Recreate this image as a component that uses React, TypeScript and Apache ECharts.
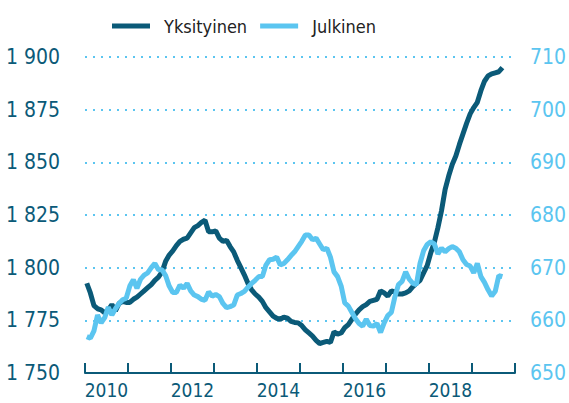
import React, { useEffect, useRef } from "react";
import * as echarts from "echarts";

const years = ["2010", "2011", "2012", "2013", "2014", "2015", "2016", "2017", "2018", "2019"];
const leftTicks = { min: 1750, max: 1900, step: 25 };
const rightTicks = { min: 650, max: 710, step: 10 };

// Monthly values, Jan 2010 .. Sep 2019
const yksityinen = [
  1792.6, 1788, 1782, 1780.5, 1780, 1778.5, 1780, 1782.5, 1779.5, 1783, 1784, 1783.5,
  1783.5, 1785, 1786, 1787.5, 1789, 1790.5, 1792, 1794, 1795.5, 1798, 1803, 1806,
  1808, 1810.5, 1812.5, 1813.5, 1814, 1816.5, 1819, 1820, 1821.5, 1822.5, 1817, 1817,
  1817.5, 1814, 1812.5, 1813, 1810, 1807.5, 1803.5, 1800, 1796.5, 1792.5, 1789.5, 1787.5,
  1786, 1784, 1781, 1779, 1777, 1776, 1775.5, 1776.5, 1776, 1774.5, 1774, 1773.8,
  1772.5, 1770.5, 1769, 1767.5, 1765.5, 1764, 1764.5, 1765, 1764.5, 1769.5, 1768.5, 1769,
  1771.5, 1773, 1775.5, 1778, 1780, 1781.5, 1782.5, 1784, 1784.5, 1785, 1789, 1788,
  1786.5, 1789, 1788.5, 1787.5, 1787.5, 1788, 1789, 1791, 1792.5, 1794, 1797.5, 1801,
  1807, 1812, 1819, 1827, 1837, 1843.5, 1849, 1853, 1858.5, 1863.5, 1868.5, 1873,
  1876, 1878.5, 1884, 1888.5, 1891, 1892, 1892.5, 1893, 1895,
];

const julkinen = [
  656.9, 656.6, 658, 661, 659.5, 660.5, 662.5, 661, 662.2, 663.2, 663.9, 664.2,
  666.5, 667.7, 666.1, 667.8, 668.6, 669, 670, 670.8, 669.6, 669.6, 668.5, 666.5,
  665.3, 665.3, 666.7, 666.1, 667, 665.6, 664.8, 664.5, 664, 663.8, 665.4, 664.6,
  664.9, 664.5, 663.2, 662.4, 662.6, 662.9, 664.8, 665.1, 665.5, 666.3, 667, 667.6,
  668.3, 668.3, 670.5, 671.5, 671.6, 672, 670.5, 670.8, 671.5, 672.3, 673, 674,
  675, 676.2, 676.2, 675.3, 675.6, 674.5, 673.4, 673.7, 672, 669.2, 668.3, 666.5,
  663.3, 662.7, 661.5, 660.3, 659.4, 658.9, 660.2, 659, 658.9, 659.4, 657.7, 659.5,
  660.9, 661.5, 664.5, 666.8, 667.4, 669.2, 667.8, 667, 666.8, 670.8, 673.2, 674.4,
  674.9, 674.5, 672.6, 673.7, 673, 673.6, 674, 673.7, 673, 671.5, 670.6, 670.3,
  669, 670.8, 668.3, 667.2, 665.8, 664.6, 665.5, 668.5, 668.3,
];

const DARK = "#0b5a78";
const LIGHT = "#5bc5f0";
const FONT = "'Liberation Sans Narrow', 'DejaVu Sans Condensed', 'Roboto', sans-serif";

const fmtThousands = (v: number) => {
  const s = String(Math.round(v));
  return s.length > 3 ? s.slice(0, s.length - 3) + " " + s.slice(-3) : s;
};

export default function App() {
  const ref = useRef<HTMLDivElement>(null);
  useEffect(() => {
    if (!ref.current) return;
    const chart = echarts.init(ref.current, undefined, { renderer: "svg" });
    const months = years.length * 12;
    chart.setOption({
      animation: false,
      backgroundColor: "#ffffff",
      legend: {
        top: 17,
        left: 112,
        padding: 0,
        itemWidth: 38,
        itemHeight: 5,
        itemGap: 13,
        icon: "rect",
        textStyle: { fontFamily: FONT, fontSize: 18, color: "#222", padding: [0, 0, 0, 9] },
        data: ["Yksityinen", "Julkinen"],
      },
      grid: { left: 85, right: 42, top: 57, bottom: 30, containLabel: false },
      xAxis: [
        {
          type: "value",
          min: 0,
          max: months,
          interval: 12,
          axisLine: { show: true, lineStyle: { color: DARK, width: 2 } },
          axisTick: { show: true, inside: true, length: 10, lineStyle: { color: DARK, width: 2 } },
          axisLabel: { show: false },
          splitLine: { show: false },
        },
        {
          type: "category",
          data: years,
          position: "bottom",
          boundaryGap: true,
          axisLine: { show: false },
          axisTick: { show: false },
          axisLabel: {
            interval: 1,
            margin: 7,
            fontFamily: FONT,
            fontSize: 19,
            color: DARK,
          },
          splitLine: { show: false },
        },
      ],
      yAxis: [
        {
          type: "value",
          min: leftTicks.min,
          max: leftTicks.max,
          interval: leftTicks.step,
          position: "left",
          axisLine: { show: false },
          axisTick: { show: false },
          axisLabel: {
            margin: 25,
            fontFamily: FONT,
            fontSize: 21,
            color: DARK,
            formatter: (v: number) => fmtThousands(v),
          },
          splitLine: { show: true, lineStyle: { color: LIGHT, width: 2, type: [2, 6] } },
        },
        {
          type: "value",
          min: rightTicks.min,
          max: rightTicks.max,
          interval: rightTicks.step,
          position: "right",
          axisLine: { show: false },
          axisTick: { show: false },
          axisLabel: { margin: 15, fontFamily: FONT, fontSize: 21, color: LIGHT },
          splitLine: { show: false },
        },
      ],
      series: [
        {
          name: "Yksityinen",
          type: "line",
          xAxisIndex: 0,
          yAxisIndex: 0,
          showSymbol: false,
          symbol: "none",
          color: DARK,
          lineStyle: { color: DARK, width: 5 },
          data: yksityinen.map((v, i) => [i + 0.5, v]),
        },
        {
          name: "Julkinen",
          type: "line",
          xAxisIndex: 0,
          yAxisIndex: 1,
          showSymbol: false,
          symbol: "none",
          color: LIGHT,
          lineStyle: { color: LIGHT, width: 5 },
          data: julkinen.map((v, i) => [i + 0.5, v]),
        },
      ],
    });
    return () => chart.dispose();
  }, []);
  return (
    <div
      ref={ref}
      style={{ position: "fixed", left: 0, top: 0, width: 569, height: 403 }}
    />
  );
}
